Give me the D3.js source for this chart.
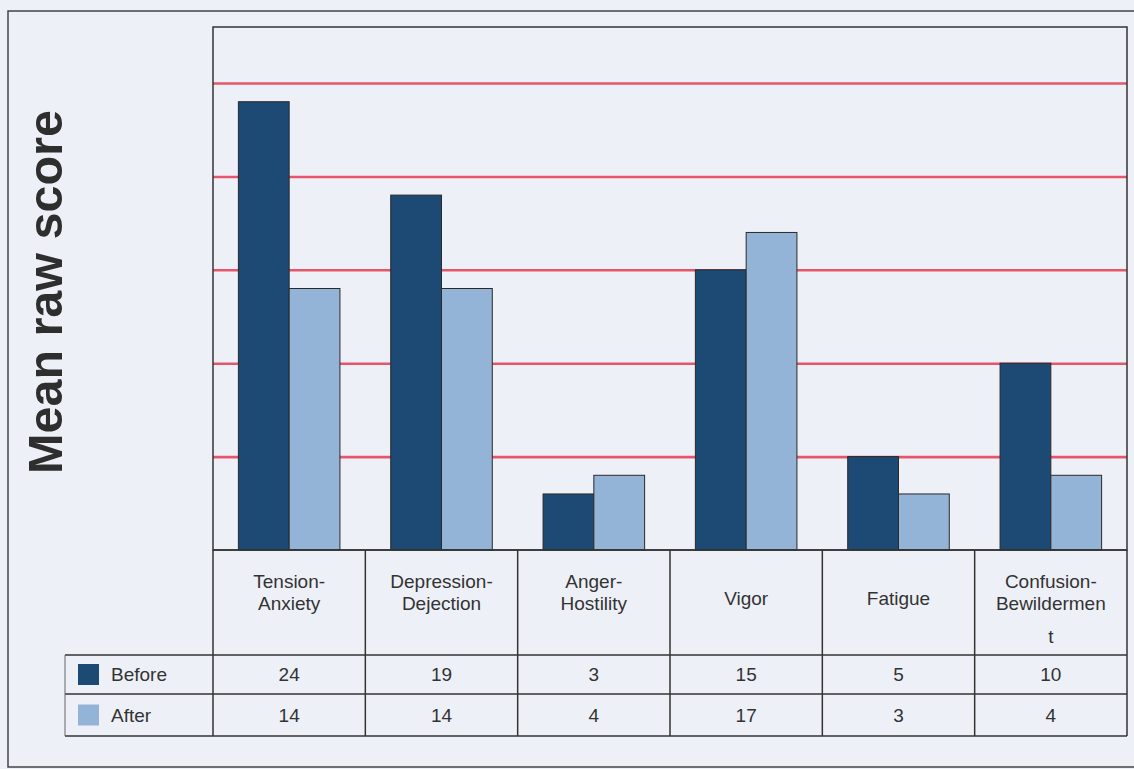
<!DOCTYPE html>
<html>
<head>
<meta charset="utf-8">
<script src="https://cdn.jsdelivr.net/npm/d3@7"></script>
<style>
  html, body { margin: 0; padding: 0; background: #eef0f7; }
  svg { display: block; }
  text { font-family: "Liberation Sans", Arial, sans-serif; fill: #333; }
</style>
</head>
<body>
<svg id="chart" width="1134" height="769"></svg>
<script>
// ---- data ----
const categories = ["Tension-Anxiety", "Depression-Dejection", "Anger-Hostility", "Vigor", "Fatigue", "Confusion-Bewilderment"];
const categoryLines = [
  ["Tension-", "Anxiety"],
  ["Depression-", "Dejection"],
  ["Anger-", "Hostility"],
  ["Vigor"],
  ["Fatigue"],
  ["Confusion-", "Bewildermen", "t"]
];
const seriesNames = ["Before", "After"];
const beforeValues = [24, 19, 3, 15, 5, 10];
const afterValues = [14, 14, 4, 17, 3, 4];
const gridTicks = [5, 10, 15, 20, 25];
const yLabel = "Mean raw score";

const seriesValues = { Before: beforeValues, After: afterValues };
const colors = { Before: "#1d4a74", After: "#93b3d7" };

const svg = d3.select("#chart");

// layout
const plot = { left: 213, right: 1127, top: 27, bottom: 550 };
const rows = { labelBottom: 655, beforeBottom: 694, afterBottom: 736 };
const legendLeft = 65;
const fs = 19;

const x0 = d3.scaleBand().domain(categories).range([plot.left, plot.right]).padding(0);
const bw = x0.bandwidth();
const x1 = d3.scaleBand().domain(seriesNames).range([bw / 6, bw * 5 / 6]).padding(0);
const y = d3.scaleLinear().domain([0, 28]).range([plot.bottom, plot.top]);

// outer frame
svg.append("rect").attr("x", 8).attr("y", 11).attr("width", 1140).attr("height", 756)
  .attr("fill", "none").attr("stroke", "#444").attr("stroke-width", 1.5);

// plot background
svg.append("rect").attr("x", plot.left).attr("y", plot.top)
  .attr("width", plot.right - plot.left).attr("height", plot.bottom - plot.top)
  .attr("fill", "#eef0f7");

// gridlines via axis
const yAxis = d3.axisLeft(y).tickValues(gridTicks).tickSize(-(plot.right - plot.left)).tickFormat("");
const gy = svg.append("g").attr("transform", `translate(${plot.left},0)`).call(yAxis);
gy.select(".domain").remove();
gy.selectAll(".tick line").attr("stroke", "#e5566a").attr("stroke-width", 2.6);

// bars
const groups = svg.append("g").selectAll("g").data(categories).join("g")
  .attr("transform", d => `translate(${x0(d)},0)`);
groups.selectAll("rect")
  .data((d, i) => seriesNames.map(s => ({ s, v: seriesValues[s][i] })))
  .join("rect")
  .attr("x", d => x1(d.s))
  .attr("width", x1.bandwidth())
  .attr("y", d => y(d.v))
  .attr("height", d => y(0) - y(d.v))
  .attr("fill", d => colors[d.s])
  .attr("stroke", "#2a2a2a")
  .attr("stroke-width", 1);

// plot frame
svg.append("rect").attr("x", plot.left).attr("y", plot.top)
  .attr("width", plot.right - plot.left).attr("height", plot.bottom - plot.top)
  .attr("fill", "none").attr("stroke", "#333").attr("stroke-width", 1.5);

// data table
const tbl = svg.append("g");
const lineStyle = sel => sel.attr("stroke", "#333").attr("stroke-width", 1.5);
[[plot.left, plot.right, plot.bottom], [legendLeft, plot.right, rows.labelBottom],
 [legendLeft, plot.right, rows.beforeBottom], [legendLeft, plot.right, rows.afterBottom]]
  .forEach(([a, b, yy]) => tbl.append("line").attr("x1", a).attr("x2", b).attr("y1", yy).attr("y2", yy).call(lineStyle));
categories.forEach(c => {
  tbl.append("line").attr("x1", x0(c)).attr("x2", x0(c)).attr("y1", plot.bottom).attr("y2", rows.afterBottom).call(lineStyle);
});
tbl.append("line").attr("x1", plot.right).attr("x2", plot.right).attr("y1", plot.bottom).attr("y2", rows.afterBottom).call(lineStyle);
tbl.append("line").attr("x1", legendLeft).attr("x2", legendLeft).attr("y1", rows.labelBottom).attr("y2", rows.afterBottom)
  .attr("stroke", "#666").attr("stroke-width", 1);

// category labels
categories.forEach((c, i) => {
  const lines = categoryLines[i];
  const cx = x0(c) + bw / 2;
  lines.forEach((ln, j) => {
    const yy = lines.length === 1 ? 598 : 581 + j * 22 + (j >= 2 ? 11 : 0);
    tbl.append("text").attr("x", cx).attr("y", yy).attr("dy", "0.35em")
      .attr("text-anchor", "middle").attr("font-size", fs).text(ln);
  });
});

// values rows
const rowCenters = { Before: (rows.labelBottom + rows.beforeBottom) / 2, After: (rows.beforeBottom + rows.afterBottom) / 2 };
seriesNames.forEach(s => {
  const cy = rowCenters[s];
  tbl.append("rect").attr("x", 78).attr("y", cy - 10.5).attr("width", 21).attr("height", 21).attr("fill", colors[s]);
  tbl.append("text").attr("x", 111).attr("y", cy).attr("dy", "0.35em").attr("font-size", fs).text(s);
  categories.forEach((c, i) => {
    tbl.append("text").attr("x", x0(c) + bw / 2).attr("y", cy).attr("dy", "0.35em")
      .attr("text-anchor", "middle").attr("font-size", fs).text(seriesValues[s][i]);
  });
});

// y-axis label
svg.append("text")
  .attr("transform", `translate(62,292) rotate(-90)`)
  .attr("text-anchor", "middle")
  .attr("font-size", 48.5).attr("font-weight", "bold")
  .style("fill", "#2e2e2e")
  .text(yLabel);
</script>
</body>
</html>
